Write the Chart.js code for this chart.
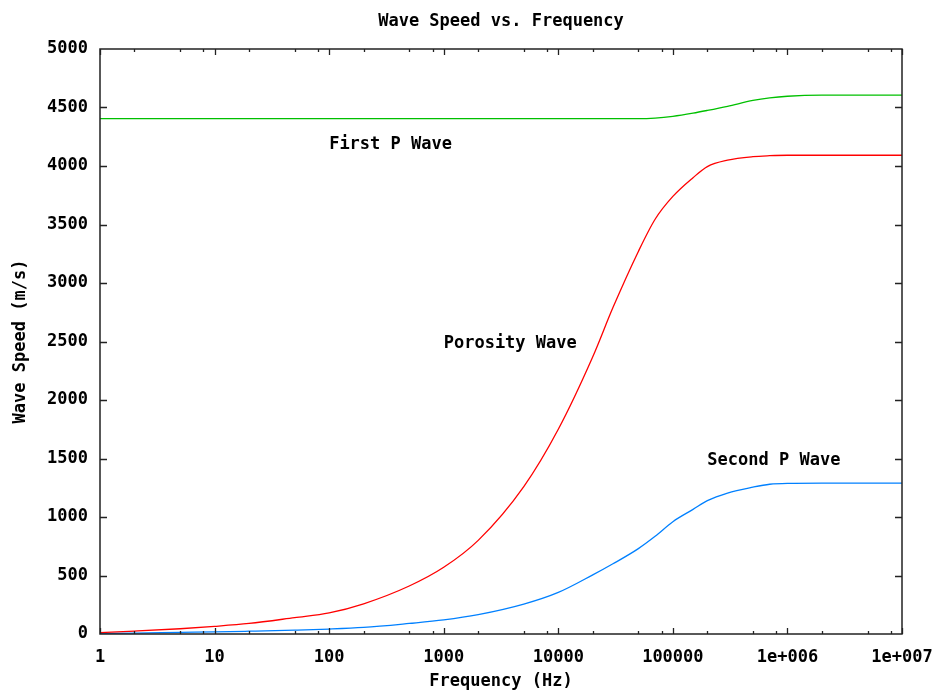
<!DOCTYPE html>
<html>
<head>
<meta charset="utf-8">
<script src="https://cdn.jsdelivr.net/npm/chart.js@4"></script>
<style>
  html, body { margin: 0; padding: 0; background: #fff; }
  #waveChart { display: block; }
</style>
</head>
<body>
<canvas id="waveChart" width="938" height="693"></canvas>
<script>
// frequencies (Hz) the curves were read at
var frequencies = [1, 2, 5, 10, 20, 50, 100, 200, 500, 1000, 2000, 5000, 10000, 20000, 30000,
    50000, 70000, 100000, 150000, 200000, 300000, 500000, 700000, 1000000, 2000000, 5000000, 10000000];

var porosityWave = [12, 25, 45, 65, 90, 140, 180, 258, 410, 570, 800, 1260, 1750, 2370, 2790,
    3270, 3545, 3740, 3900, 3995, 4050, 4080, 4088, 4092, 4092, 4092, 4092];

var firstPWave = [4405, 4405, 4405, 4405, 4405, 4405, 4405, 4405, 4405, 4405, 4405, 4405, 4405, 4405, 4405,
    4405, 4410, 4425, 4452, 4475, 4510, 4560, 4582, 4596, 4605, 4605, 4605];

var secondPWave = [5, 8, 14, 18, 24, 33, 42, 56, 90, 120, 165, 255, 355, 505, 600,
    730, 835, 960, 1065, 1140, 1205, 1255, 1280, 1288, 1290, 1290, 1290];

var xTickValues = [1, 10, 100, 1000, 10000, 100000, 1000000, 10000000];
var xTickLabels = ['1', '10', '100', '1000', '10000', '100000', '1e+006', '1e+007'];
var xMinorSteps = [2, 5, 8];

var curveLabels = ['First P Wave', 'Porosity Wave', 'Second P Wave'];
var curveLabelX = [100, 1000, 200000];
var curveLabelY = [4200, 2500, 1500];

var FONT = 'bold 17px "DejaVu Sans Mono", monospace';
var AXIS_FONT = { family: '"DejaVu Sans Mono", monospace', size: 17, weight: 'bold' };

function toPoints(values) {
    var points = [];
    for (var i = 0; i < frequencies.length; i++) {
        points.push({ x: frequencies[i], y: values[i] });
    }
    return points;
}

var framePlugin = {
    id: 'framePlugin',
    afterDatasetsDraw: function (chart) {
        var ctx = chart.ctx;
        var xScale = chart.scales.x;
        var yScale = chart.scales.y;

        ctx.save();
        ctx.fillStyle = '#000';
        ctx.font = FONT;
        ctx.textBaseline = 'middle';
        ctx.textAlign = 'left';
        for (var i = 0; i < curveLabels.length; i++) {
            // +2: DejaVu glyphs sit a little high on a 'middle' baseline
            ctx.fillText(curveLabels[i], xScale.getPixelForValue(curveLabelX[i]), yScale.getPixelForValue(curveLabelY[i]) + 2);
        }
        ctx.restore();
    },
    afterDraw: function (chart) {
        var ctx = chart.ctx;
        var area = chart.chartArea;
        var xScale = chart.scales.x;
        var yScale = chart.scales.y;

        ctx.save();
        ctx.strokeStyle = '#222';
        ctx.lineWidth = 1.5;
        ctx.strokeRect(area.left, area.top, area.right - area.left, area.bottom - area.top);

        ctx.lineWidth = 1.3;
        ctx.beginPath();
        // y ticks, left and right, pointing inward
        for (var v = 500; v < 5000; v += 500) {
            var py = Math.round(yScale.getPixelForValue(v)) + 0.5;
            ctx.moveTo(area.left, py);
            ctx.lineTo(area.left + 7, py);
            ctx.moveTo(area.right, py);
            ctx.lineTo(area.right - 7, py);
        }
        // x ticks, bottom and top
        for (var d = 0; d < xTickValues.length; d++) {
            var px = Math.round(xScale.getPixelForValue(xTickValues[d])) + 0.5;
            ctx.moveTo(px, area.bottom);
            ctx.lineTo(px, area.bottom - 6);
            ctx.moveTo(px, area.top);
            ctx.lineTo(px, area.top + 6);
            if (d < xTickValues.length - 1) {
                for (var m = 0; m < xMinorSteps.length; m++) {
                    var mx = Math.round(xScale.getPixelForValue(xTickValues[d] * xMinorSteps[m])) + 0.5;
                    ctx.moveTo(mx, area.bottom);
                    ctx.lineTo(mx, area.bottom - 3);
                    ctx.moveTo(mx, area.top);
                    ctx.lineTo(mx, area.top + 3);
                }
            }
        }
        ctx.stroke();

        // chart title, centred over the plot area
        ctx.fillStyle = '#000';
        ctx.font = FONT;
        ctx.textAlign = 'center';
        ctx.textBaseline = 'middle';
        ctx.fillText('Wave Speed vs. Frequency', (area.left + area.right) / 2, 22);
        ctx.restore();
    }
};

function drawChart() {
    var ctx = document.getElementById('waveChart').getContext('2d');

    var waveChart = new Chart(ctx, {
        type: 'line',
        data: {
            datasets: [{
                label: 'Porosity Wave',
                data: toPoints(porosityWave),
                borderColor: '#ff0000',
                borderWidth: 1.3,
                pointRadius: 0,
                fill: false,
                cubicInterpolationMode: 'monotone'
            }, {
                label: 'First P Wave',
                data: toPoints(firstPWave),
                borderColor: '#00c000',
                borderWidth: 1.3,
                pointRadius: 0,
                fill: false,
                cubicInterpolationMode: 'monotone'
            }, {
                label: 'Second P Wave',
                data: toPoints(secondPWave),
                borderColor: '#0080ff',
                borderWidth: 1.3,
                pointRadius: 0,
                fill: false,
                cubicInterpolationMode: 'monotone'
            }]
        },
        options: {
            responsive: false,
            animation: false,
            events: [],
            layout: {
                padding: { top: 49, right: 36, left: 0, bottom: 0 }
            },
            plugins: {
                legend: { display: false },
                tooltip: { enabled: false },
                title: { display: false }
            },
            scales: {
                x: {
                    type: 'logarithmic',
                    min: 1,
                    max: 10000000,
                    grid: { display: false, drawTicks: false },
                    border: { display: false },
                    afterBuildTicks: function (scale) {
                        scale.ticks = xTickValues.map(function (v) { return { value: v }; });
                    },
                    afterFit: function (scale) {
                        scale.height = 59;
                        scale.paddingLeft = 0;
                        scale.paddingRight = 0;
                    },
                    ticks: {
                        autoSkip: false,
                        maxRotation: 0,
                        padding: 13,
                        color: '#000',
                        font: AXIS_FONT,
                        callback: function (value, index) {
                            return xTickLabels[index];
                        }
                    },
                    title: {
                        display: true,
                        text: 'Frequency (Hz)',
                        color: '#000',
                        font: AXIS_FONT,
                        padding: { top: 0, bottom: 1 }
                    }
                },
                y: {
                    min: 0,
                    max: 5000,
                    grid: { display: false, drawTicks: false },
                    border: { display: false },
                    afterFit: function (scale) {
                        scale.width = 100;
                        scale.paddingTop = 0;
                        scale.paddingBottom = 0;
                    },
                    ticks: {
                        stepSize: 500,
                        padding: 12,
                        color: '#000',
                        font: AXIS_FONT,
                        callback: function (value) {
                            return String(value);
                        }
                    },
                    title: {
                        display: true,
                        text: 'Wave Speed (m/s)',
                        color: '#000',
                        font: AXIS_FONT,
                        padding: { top: 10, bottom: 0 }
                    }
                }
            }
        },
        plugins: [framePlugin]
    });
}

drawChart();
</script>
</body>
</html>
